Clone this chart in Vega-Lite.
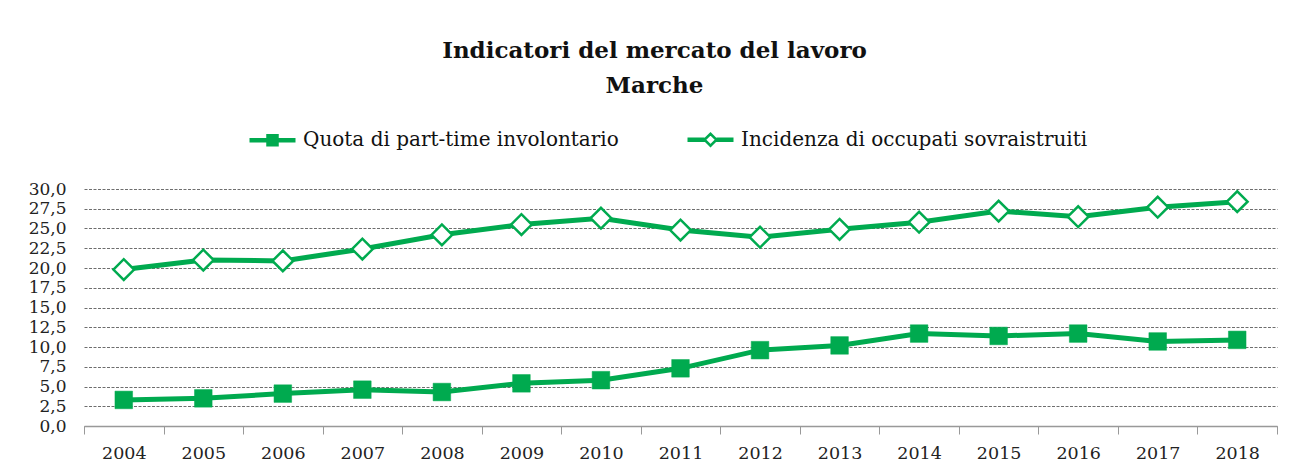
{
  "$schema": "https://vega.github.io/schema/vega-lite/v6.json",
  "width": 1193,
  "height": 237,
  "autosize": {"type": "none"},
  "padding": {"left": 84, "top": 189, "right": 17, "bottom": 48},
  "background": "white",
  "title": {
    "text": ["Indicatori del mercato del lavoro", "Marche"],
    "font": "DejaVu Serif",
    "fontSize": 23,
    "fontWeight": "bold",
    "color": "#111111",
    "lineHeight": 35,
    "anchor": "middle",
    "frame": "group",
    "dx": -26,
    "offset": 30
  },
  "data": {
    "values": [
      {"year": "2004", "series": "Quota di part-time involontario", "value": 3.3},
      {"year": "2005", "series": "Quota di part-time involontario", "value": 3.5},
      {"year": "2006", "series": "Quota di part-time involontario", "value": 4.1},
      {"year": "2007", "series": "Quota di part-time involontario", "value": 4.6},
      {"year": "2008", "series": "Quota di part-time involontario", "value": 4.3},
      {"year": "2009", "series": "Quota di part-time involontario", "value": 5.4},
      {"year": "2010", "series": "Quota di part-time involontario", "value": 5.8},
      {"year": "2011", "series": "Quota di part-time involontario", "value": 7.3},
      {"year": "2012", "series": "Quota di part-time involontario", "value": 9.6},
      {"year": "2013", "series": "Quota di part-time involontario", "value": 10.2},
      {"year": "2014", "series": "Quota di part-time involontario", "value": 11.7},
      {"year": "2015", "series": "Quota di part-time involontario", "value": 11.4},
      {"year": "2016", "series": "Quota di part-time involontario", "value": 11.7},
      {"year": "2017", "series": "Quota di part-time involontario", "value": 10.7},
      {"year": "2018", "series": "Quota di part-time involontario", "value": 10.9},
      {"year": "2004", "series": "Incidenza di occupati sovraistruiti", "value": 19.8},
      {"year": "2005", "series": "Incidenza di occupati sovraistruiti", "value": 21.0},
      {"year": "2006", "series": "Incidenza di occupati sovraistruiti", "value": 20.9},
      {"year": "2007", "series": "Incidenza di occupati sovraistruiti", "value": 22.4},
      {"year": "2008", "series": "Incidenza di occupati sovraistruiti", "value": 24.2},
      {"year": "2009", "series": "Incidenza di occupati sovraistruiti", "value": 25.5},
      {"year": "2010", "series": "Incidenza di occupati sovraistruiti", "value": 26.3},
      {"year": "2011", "series": "Incidenza di occupati sovraistruiti", "value": 24.8},
      {"year": "2012", "series": "Incidenza di occupati sovraistruiti", "value": 23.9},
      {"year": "2013", "series": "Incidenza di occupati sovraistruiti", "value": 24.9},
      {"year": "2014", "series": "Incidenza di occupati sovraistruiti", "value": 25.8},
      {"year": "2015", "series": "Incidenza di occupati sovraistruiti", "value": 27.2},
      {"year": "2016", "series": "Incidenza di occupati sovraistruiti", "value": 26.5},
      {"year": "2017", "series": "Incidenza di occupati sovraistruiti", "value": 27.7},
      {"year": "2018", "series": "Incidenza di occupati sovraistruiti", "value": 28.4}
    ]
  },
  "encoding": {
    "x": {
      "field": "year",
      "type": "ordinal",
      "scale": {"type": "band", "paddingInner": 0, "paddingOuter": 0},
      "axis": {
        "title": null,
        "labelAngle": 0,
        "labelFont": "DejaVu Serif",
        "labelFontSize": 17.5,
        "labelColor": "#222222",
        "labelPadding": 10,
        "tickBand": "extent",
        "tickSize": 8,
        "tickColor": "#999999",
        "domainColor": "#999999",
        "domainWidth": 1.5,
        "grid": false
      }
    },
    "y": {
      "field": "value",
      "type": "quantitative",
      "scale": {"domain": [0, 30], "nice": false, "zero": true},
      "axis": {
        "title": null,
        "values": [0, 2.5, 5, 7.5, 10, 12.5, 15, 17.5, 20, 22.5, 25, 27.5, 30],
        "labelExpr": "replace(format(datum.value, '.1f'), '.', ',')",
        "labelFont": "DejaVu Serif",
        "labelFontSize": 17,
        "labelColor": "#222222",
        "labelPadding": 18,
        "ticks": false,
        "domain": false,
        "grid": true,
        "gridColor": "#6e6e6e",
        "gridWidth": 1,
        "gridDash": [3, 1.5]
      }
    }
  },
  "layer": [
    {
      "mark": {"type": "line", "strokeWidth": 5, "color": "#00AA4F"},
      "encoding": {"detail": {"field": "series"}}
    },
    {
      "transform": [{"filter": "datum.series == 'Quota di part-time involontario'"}],
      "mark": {"type": "point", "shape": "square", "size": 310, "filled": true, "fill": "#00AA4F", "stroke": "#00AA4F", "strokeWidth": 0.5, "opacity": 1}
    },
    {
      "transform": [{"filter": "datum.series == 'Incidenza di occupati sovraistruiti'"}],
      "mark": {"type": "point", "shape": "diamond", "size": 430, "filled": false, "fill": "#ffffff", "fillOpacity": 1, "stroke": "#00AA4F", "strokeWidth": 2.5, "opacity": 1}
    },
    {
      "mark": {"type": "point", "opacity": 0, "filled": true, "size": 400},
      "encoding": {
        "shape": {
          "field": "series",
          "type": "nominal",
          "sort": ["Quota di part-time involontario", "Incidenza di occupati sovraistruiti"],
          "scale": {
            "domain": ["Quota di part-time involontario", "Incidenza di occupati sovraistruiti"],
            "range": [
              "M-1,-0.1H0.8M-1,0.1H0.8M1.8,-0.1H3.6M1.8,0.1H3.6M0.8,-0.5H1.8V0.5H0.8Z",
              "M-1,-0.1H0.7M-1,0.1H0.7M1.9,-0.1H3.6M1.9,0.1H3.6M0.7,0L1.3,-0.6L1.9,0L1.3,0.6Z"
            ]
          },
          "legend": {
            "title": null,
            "orient": "none",
            "legendX": 164,
            "legendY": -61,
            "direction": "horizontal",
            "symbolSize": 400,
            "symbolOpacity": 1,
            "symbolStrokeWidth": 2.5,
            "labelFont": "DejaVu Serif",
            "labelFontSize": 20,
            "labelColor": "#111111",
            "labelOffset": 32,
            "labelLimit": 0,
            "columnPadding": 63
          }
        },
        "fill": {
          "field": "series",
          "type": "nominal",
          "scale": {
            "domain": ["Quota di part-time involontario", "Incidenza di occupati sovraistruiti"],
            "range": ["#00AA4F", "#ffffff"]
          },
          "legend": {
            "title": null,
            "orient": "none",
            "legendX": 164,
            "legendY": -61,
            "direction": "horizontal",
            "symbolSize": 400,
            "symbolOpacity": 1,
            "symbolStrokeWidth": 2.5,
            "labelFont": "DejaVu Serif",
            "labelFontSize": 20,
            "labelColor": "#111111",
            "labelOffset": 32,
            "labelLimit": 0,
            "columnPadding": 63
          }
        },
        "stroke": {
          "field": "series",
          "type": "nominal",
          "scale": {
            "domain": ["Quota di part-time involontario", "Incidenza di occupati sovraistruiti"],
            "range": ["#00AA4F", "#00AA4F"]
          },
          "legend": {
            "title": null,
            "orient": "none",
            "legendX": 164,
            "legendY": -61,
            "direction": "horizontal",
            "symbolSize": 400,
            "symbolOpacity": 1,
            "symbolStrokeWidth": 2.5,
            "labelFont": "DejaVu Serif",
            "labelFontSize": 20,
            "labelColor": "#111111",
            "labelOffset": 32,
            "labelLimit": 0,
            "columnPadding": 63
          }
        }
      }
    }
  ],
  "config": {
    "view": {"stroke": null}
  }
}
